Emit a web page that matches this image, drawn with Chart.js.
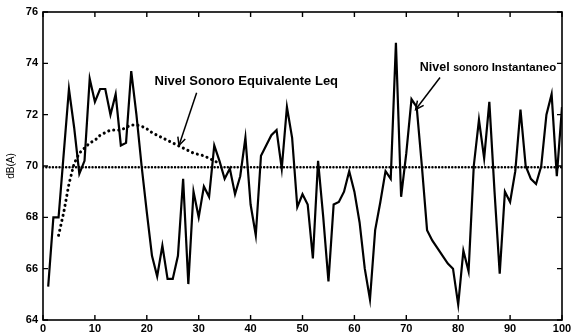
<!DOCTYPE html>
<html>
<head>
<meta charset="utf-8">
<script src="https://cdn.jsdelivr.net/npm/chart.js@4"></script>
<style>
  html, body { margin: 0; padding: 0; background: #fff; }
  #wrap { width: 576px; height: 336px; }
</style>
</head>
<body>
<div id="wrap"><canvas id="chart" width="576" height="336"></canvas></div>
<script>
// instantaneous level, one sample per second (t = 1..100)
const timeSec = [1,2,3,4,5,6,7,8,9,10,11,12,13,14,15,16,17,18,19,20,
  21,22,23,24,25,26,27,28,29,30,31,32,33,34,35,36,37,38,39,40,
  41,42,43,44,45,46,47,48,49,50,51,52,53,54,55,56,57,58,59,60,
  61,62,63,64,65,66,67,68,69,70,71,72,73,74,75,76,77,78,79,80,
  81,82,83,84,85,86,87,88,89,90,91,92,93,94,95,96,97,98,99,100];
const levelInst = [65.3,68.0,68.0,70.5,73.0,71.5,69.7,70.2,73.4,72.5,
  73.0,73.0,72.0,72.8,70.8,70.9,73.7,72.0,70.0,68.2,
  66.5,65.7,66.9,65.6,65.6,66.5,69.5,65.4,69.0,68.0,
  69.2,68.8,70.8,70.2,69.5,69.9,68.9,69.6,71.1,68.5,
  67.3,70.4,70.8,71.2,71.4,69.9,72.3,71.1,68.4,68.9,
  68.5,66.4,70.2,68.0,65.5,68.5,68.6,69.0,69.8,69.0,
  67.8,66.0,64.8,67.5,68.6,69.8,69.5,74.8,68.8,70.5,
  72.6,72.3,70.0,67.5,67.1,66.8,66.5,66.2,66.0,64.6,
  66.7,65.9,70.0,71.8,70.3,72.5,69.0,65.8,69.0,68.6,
  69.8,72.2,70.0,69.5,69.3,70.0,72.0,72.8,69.6,72.3];

// running equivalent level (only visible part above the total line)
const leqTime = [3,4,5,6,7,8,9,10,11,12,13,14,15,16,17,18,19,20,21,22,
  23,24,25,26,27,28,29,30,31,32,33,34];
const leqRunning = [67.3,68.2,69.3,70.1,70.5,70.7,70.9,71.0,71.2,71.3,
  71.4,71.4,71.4,71.5,71.6,71.6,71.55,71.45,71.3,71.2,
  71.1,71.0,70.9,70.8,70.7,70.6,70.5,70.45,70.4,70.3,70.2,70.1];

// total Leq over the whole record
const leqTotalTime = [0, 100];
const leqTotal = [69.95, 69.95];

const xTicks = [0,10,20,30,40,50,60,70,80,90,100];
const yTicks = [64,66,68,70,72,74,76];

const toPoints = (xs, ys) => xs.map((x, i) => ({ x: x, y: ys[i] }));

const FONT = '"Liberation Sans", Arial, sans-serif';

// matlab style inner ticks + box
const boxTicks = {
  id: 'boxTicks',
  afterDraw(chart) {
    const { ctx, chartArea: a, scales: { x, y } } = chart;
    ctx.save();
    ctx.strokeStyle = '#000';
    ctx.lineWidth = 1.6;
    ctx.strokeRect(a.left, a.top, a.right - a.left, a.bottom - a.top);
    ctx.lineWidth = 1.4;
    ctx.beginPath();
    xTicks.forEach(v => {
      const px = x.getPixelForValue(v);
      ctx.moveTo(px, a.bottom); ctx.lineTo(px, a.bottom - 5);
      ctx.moveTo(px, a.top); ctx.lineTo(px, a.top + 5);
    });
    yTicks.forEach(v => {
      const py = y.getPixelForValue(v);
      ctx.moveTo(a.left, py); ctx.lineTo(a.left + 5, py);
      ctx.moveTo(a.right, py); ctx.lineTo(a.right - 5, py);
    });
    ctx.stroke();
    ctx.restore();
  }
};

function arrow(ctx, x1, y1, x2, y2) {
  ctx.beginPath();
  ctx.moveTo(x1, y1);
  ctx.lineTo(x2, y2);
  ctx.stroke();
  const ang = Math.atan2(y2 - y1, x2 - x1);
  ctx.beginPath();
  ctx.moveTo(x2 - 9 * Math.cos(ang - 0.45), y2 - 9 * Math.sin(ang - 0.45));
  ctx.lineTo(x2, y2);
  ctx.lineTo(x2 - 9 * Math.cos(ang + 0.45), y2 - 9 * Math.sin(ang + 0.45));
  ctx.stroke();
}

// text pieces with different sizes, as in the scanned figure
function richText(ctx, parts, x0, y0) {
  let xx = x0;
  parts.forEach(p => {
    ctx.font = 'bold ' + p[1] + 'px ' + FONT;
    ctx.fillText(p[0], xx, y0);
    xx += ctx.measureText(p[0]).width;
  });
}

const labels = {
  id: 'labels',
  afterDatasetsDraw(chart) {
    const { ctx, scales: { x, y } } = chart;
    ctx.save();
    ctx.fillStyle = '#000';
    ctx.strokeStyle = '#000';
    ctx.lineWidth = 1.5;
    ctx.textBaseline = 'alphabetic';
    richText(ctx, [['Nivel Sonoro Equivalente Leq', 13]], x.getPixelForValue(21.5), y.getPixelForValue(73.15));
    arrow(ctx, x.getPixelForValue(29.6), y.getPixelForValue(72.85), x.getPixelForValue(26.2), y.getPixelForValue(70.8));
    richText(ctx, [['Nivel ', 12.5], ['sonoro ', 10.5], ['Instantaneo', 11.5]], x.getPixelForValue(72.6), y.getPixelForValue(73.7));
    arrow(ctx, x.getPixelForValue(76.5), y.getPixelForValue(73.45), x.getPixelForValue(71.8), y.getPixelForValue(72.2));
    ctx.restore();
  }
};

new Chart(document.getElementById('chart'), {
  type: 'line',
  data: {
    datasets: [
      {
        label: 'Leq total',
        data: toPoints(leqTotalTime, leqTotal),
        borderColor: '#000',
        borderWidth: 2.4,
        borderDash: [0.1, 3.2],
        borderCapStyle: 'round',
        pointRadius: 0,
        fill: false
      },
      {
        label: 'Nivel Sonoro Equivalente Leq',
        data: toPoints(leqTime, leqRunning),
        borderColor: '#000',
        borderWidth: 3,
        borderDash: [0.1, 5],
        borderCapStyle: 'round',
        pointRadius: 0,
        fill: false
      },
      {
        label: 'Nivel sonoro Instantaneo',
        data: toPoints(timeSec, levelInst),
        borderColor: '#000',
        borderWidth: 2.2,
        pointRadius: 0,
        tension: 0,
        fill: false
      }
    ]
  },
  options: {
    responsive: false,
    animation: false,
    layout: { padding: { top: 12, right: 14, left: 0, bottom: 0 } },
    plugins: { legend: { display: false }, tooltip: { enabled: false } },
    scales: {
      x: {
        type: 'linear',
        min: 0, max: 100,
        afterBuildTicks: s => { s.ticks = xTicks.map(v => ({ value: v })); },
        afterFit: s => { s.height = 16; },
        grid: { display: false, drawTicks: false },
        border: { display: false },
        ticks: { color: '#000', padding: 2, maxRotation: 0, font: { family: FONT, size: 11, weight: 'bold' } }
      },
      y: {
        min: 64, max: 76,
        afterBuildTicks: s => { s.ticks = yTicks.map(v => ({ value: v })); },
        afterFit: s => { s.width = 43; },
        grid: { display: false, drawTicks: false },
        border: { display: false },
        title: { display: true, text: 'dB(A)', color: '#000', padding: { top: 5, bottom: 0 }, font: { family: FONT, size: 10 } },
        ticks: { color: '#000', padding: 5, font: { family: FONT, size: 11, weight: 'bold' } }
      }
    }
  },
  plugins: [boxTicks, labels]
});
</script>
</body>
</html>
